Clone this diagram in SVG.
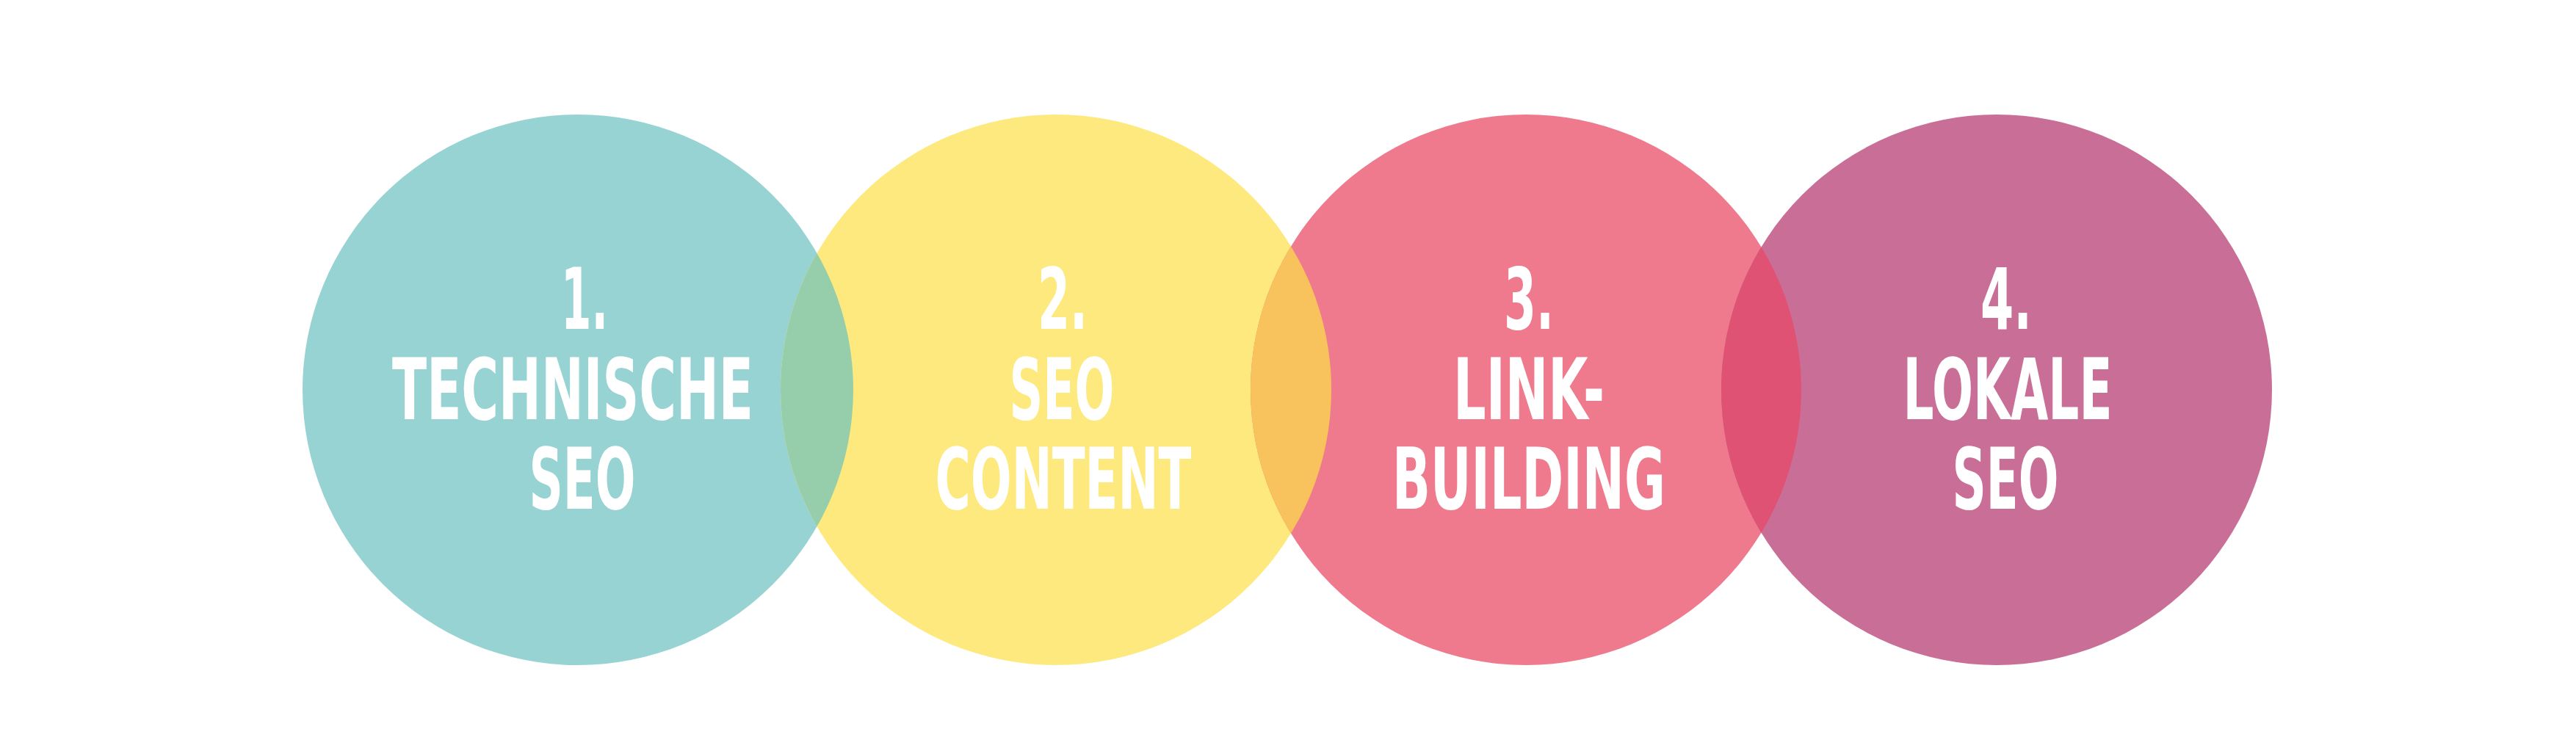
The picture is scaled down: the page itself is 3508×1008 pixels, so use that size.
<svg xmlns="http://www.w3.org/2000/svg" width="3508" height="1008" viewBox="0 0 3508 1008">
  <style>
    .lbl { font-family: "Liberation Sans Narrow", "DejaVu Sans Condensed", "Liberation Sans", sans-serif; font-weight: bold; font-size: 115px; fill: #ffffff; text-anchor: middle; }
  </style>
  <defs>
    <clipPath id="clip1"><circle cx="787" cy="531" r="375"/></clipPath>
    <clipPath id="clip2"><circle cx="1438" cy="531" r="375"/></clipPath>
    <clipPath id="clip3"><circle cx="2078" cy="531" r="375"/></clipPath>
  </defs>
  <rect width="3508" height="1008" fill="#ffffff"/>
  <g id="node1">
    <circle cx="787" cy="531" r="375" fill="#97d3d3"/>
  </g>
  <g id="node2">
    <circle cx="1438" cy="531" r="375" fill="#fee97e"/>
  </g>
  <g id="node3">
    <circle cx="2078" cy="531" r="375" fill="#ef7a8e"/>
  </g>
  <g id="node4">
    <circle cx="2719" cy="531" r="375" fill="#c96f97"/>
  </g>
  <g id="overlaps">
    <circle cx="1438" cy="531" r="375" fill="#96cdab" clip-path="url(#clip1)"/>
    <circle cx="2078" cy="531" r="375" fill="#f8c25d" clip-path="url(#clip2)"/>
    <circle cx="2719" cy="531" r="375" fill="#e05273" clip-path="url(#clip3)"/>
  </g>
  <g id="labels">
    <g id="label1">
      <text class="lbl" x="796" y="448" textLength="64" lengthAdjust="spacingAndGlyphs">1.</text>
      <text class="lbl" x="780" y="571" textLength="492" lengthAdjust="spacingAndGlyphs">TECHNISCHE</text>
      <text class="lbl" x="793" y="693" textLength="145" lengthAdjust="spacingAndGlyphs">SEO</text>
    </g>
    <g id="label2">
      <text class="lbl" x="1447" y="448" textLength="68" lengthAdjust="spacingAndGlyphs">2.</text>
      <text class="lbl" x="1446" y="571" textLength="143" lengthAdjust="spacingAndGlyphs">SEO</text>
      <text class="lbl" x="1448" y="693" textLength="349" lengthAdjust="spacingAndGlyphs">CONTENT</text>
    </g>
    <g id="label3">
      <text class="lbl" x="2082" y="448" textLength="68" lengthAdjust="spacingAndGlyphs">3.</text>
      <text class="lbl" x="2082" y="571" textLength="206" lengthAdjust="spacingAndGlyphs">LINK-</text>
      <text class="lbl" x="2082" y="693" textLength="372" lengthAdjust="spacingAndGlyphs">BUILDING</text>
    </g>
    <g id="label4">
      <text class="lbl" x="2732" y="448" textLength="70" lengthAdjust="spacingAndGlyphs">4.</text>
      <text class="lbl" x="2734" y="571" textLength="285" lengthAdjust="spacingAndGlyphs">LOKALE</text>
      <text class="lbl" x="2731" y="693" textLength="145" lengthAdjust="spacingAndGlyphs">SEO</text>
    </g>
  </g>
</svg>
